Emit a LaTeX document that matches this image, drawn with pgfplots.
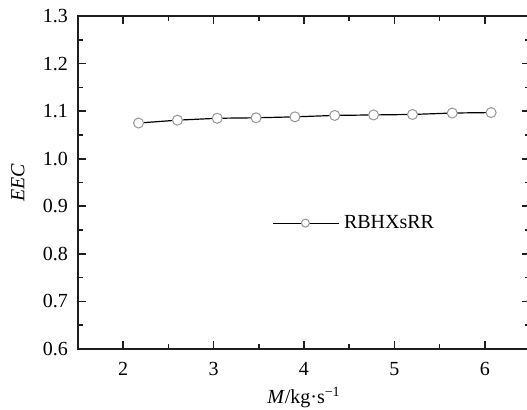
\documentclass[border=0pt]{standalone}
\usepackage{fontspec}
\setmainfont{Liberation Serif}
\usepackage{pgfplots}
\pgfplotsset{compat=1.18}
\definecolor{ink}{RGB}{30,30,30}
\definecolor{ring}{RGB}{150,150,150}

\begin{document}
\begin{tikzpicture}[font=\fontsize{10}{12}\selectfont]
\begin{axis}[
  name=ax, at={(0pt,0pt)}, anchor=south west,
  scale only axis,
  width=226pt, height=166.5pt,
  xmin=1.5, xmax=6.5, ymin=0.6, ymax=1.3,
  xtick={2,3,4,5,6},
  ytick={0.6,0.7,0.8,0.9,1.0,1.1,1.2,1.3},
  minor x tick num=1, minor y tick num=1,
  tick align=inside,
  major tick length=4pt, minor tick length=2.5pt,
  axis line style={line width=0.9pt, color=ink},
  tick style={line width=0.8pt, color=ink},
  x tick label style={/pgf/number format/assume math mode=true, yshift=-3pt},
  y tick label style={/pgf/number format/.cd, fixed, fixed zerofill, precision=1, assume math mode=true, /tikz/.cd, xshift=-1.5pt},
  xlabel={\textit{M}/kg·s\textsuperscript{−1}},
  xlabel style={at={(axis description cs:0.5,-0.145)}, anchor=center},
  ylabel={\textit{EEC}},
  ylabel style={at={(axis description cs:-0.133,0.5)}, anchor=center},
  legend style={draw=none, fill=none, inner sep=0pt, outer sep=0pt,
    at={(rel axis cs:0.431,0.378)}, anchor=west, font=\fontsize{10}{12}\selectfont},
  legend image code/.code={
    \draw[mark repeat=2, mark phase=2, #1, mark size=2pt] plot coordinates {(0pt,0pt) (16pt,0pt) (33pt,0pt)};
  },
]
\addplot[color=black, line width=0.6pt, mark=*, mark size=2.5pt,
  mark options={draw=ring, fill=white, line width=0.5pt}]
  coordinates {
  (2.17,1.075) (2.60,1.081) (3.04,1.085) (3.47,1.086) (3.90,1.088)
  (4.34,1.091) (4.77,1.092) (5.20,1.093) (5.64,1.096) (6.07,1.097)
  };
\legend{RBHXsRR}
\end{axis}
\pgfresetboundingbox
\path[use as bounding box] (-39pt,-30.5pt) rectangle (224.5pt,174.5pt);
\end{tikzpicture}
\end{document}
